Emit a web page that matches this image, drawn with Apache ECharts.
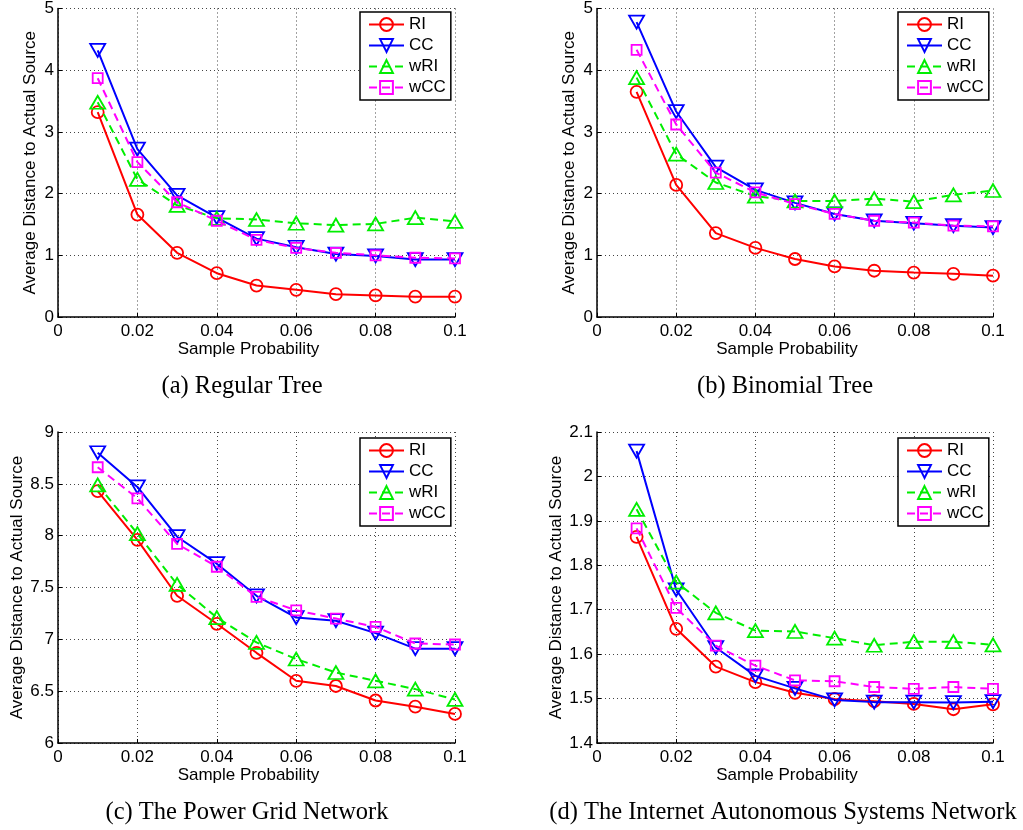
<!DOCTYPE html>
<html>
<head>
<meta charset="utf-8">
<script src="https://cdn.jsdelivr.net/npm/echarts@6/dist/echarts.min.js"></script>
<style>
html,body{margin:0;padding:0;background:#fff;}
#chart{width:1023px;height:830px;}
</style>
</head>
<body>
<div id="chart"></div>
<script>
// ---------- data ----------
const sampleProb = [0.01, 0.02, 0.03, 0.04, 0.05, 0.06, 0.07, 0.08, 0.09, 0.10];
const seriesNames = ['RI', 'CC', 'wRI', 'wCC'];
const captions = ['(a) Regular Tree', '(b) Binomial Tree', '(c) The Power Grid Network', '(d) The Internet Autonomous Systems Network'];

// (a) Regular Tree
const regRI  = [3.32, 1.66, 1.04, 0.71, 0.51, 0.44, 0.37, 0.35, 0.33, 0.33];
const regCC  = [4.32, 2.72, 1.97, 1.61, 1.27, 1.13, 1.02, 0.99, 0.93, 0.93];
const regWRI = [3.48, 2.23, 1.81, 1.60, 1.58, 1.52, 1.49, 1.51, 1.61, 1.55];
const regWCC = [3.87, 2.51, 1.86, 1.56, 1.25, 1.12, 1.04, 1.00, 0.96, 0.95];

// (b) Binomial Tree
const binRI  = [3.65, 2.14, 1.36, 1.12, 0.94, 0.82, 0.75, 0.72, 0.70, 0.67];
const binCC  = [4.78, 3.33, 2.43, 2.06, 1.85, 1.67, 1.56, 1.52, 1.48, 1.45];
const binWRI = [3.88, 2.64, 2.18, 1.96, 1.88, 1.88, 1.92, 1.87, 1.98, 2.05];
const binWCC = [4.33, 3.12, 2.34, 2.02, 1.83, 1.67, 1.56, 1.53, 1.48, 1.47];

// (c) Power Grid Network
const pgRI  = [8.43, 7.96, 7.42, 7.15, 6.87, 6.60, 6.55, 6.41, 6.35, 6.28];
const pgCC  = [8.80, 8.47, 7.99, 7.73, 7.42, 7.21, 7.18, 7.06, 6.91, 6.91];
const pgWRI = [8.49, 8.02, 7.53, 7.21, 6.97, 6.81, 6.68, 6.60, 6.52, 6.42];
const pgWCC = [8.66, 8.36, 7.92, 7.70, 7.41, 7.28, 7.20, 7.12, 6.96, 6.95];

// (d) Internet Autonomous Systems Network
const asRI  = [1.864, 1.657, 1.572, 1.537, 1.513, 1.499, 1.494, 1.488, 1.476, 1.487];
const asCC  = [2.057, 1.745, 1.615, 1.551, 1.523, 1.497, 1.492, 1.492, 1.491, 1.493];
const asWRI = [1.926, 1.762, 1.693, 1.653, 1.651, 1.636, 1.620, 1.628, 1.628, 1.621];
const asWCC = [1.883, 1.704, 1.619, 1.574, 1.541, 1.539, 1.526, 1.522, 1.526, 1.522];

// axis ranges
const xMin = 0, xMax = 0.1, xStep = 0.02;
const yRanges = [
  {min: 0, max: 5, interval: 1},
  {min: 0, max: 5, interval: 1},
  {min: 6, max: 9, interval: 0.5},
  {min: 1.4, max: 2.1, interval: 0.1}
];
const panelData = [
  [regRI, regCC, regWRI, regWCC],
  [binRI, binCC, binWRI, binWCC],
  [pgRI, pgCC, pgWRI, pgWCC],
  [asRI, asCC, asWRI, asWCC]
];

// ---------- layout / style ----------
const grids = [
  {left: 58, top: 6, width: 397, height: 311},
  {left: 597, top: 6, width: 396, height: 311},
  {left: 58, top: 432, width: 397, height: 311},
  {left: 597, top: 432, width: 396, height: 311}
];
const yNameGaps = [19, 19, 32, 32];
const captionPos = [[242, 387], [785, 387], [247, 813], [783, 813]];
const styles = [
  {color: '#ff0000', symbol: 'circle', size: 12, rotate: 0, dash: 'solid'},
  {color: '#0000ff', symbol: 'triangle', size: [15, 13], rotate: 180, dash: 'solid'},
  {color: '#00ee00', symbol: 'triangle', size: [15, 13], rotate: 0, dash: [8, 5]},
  {color: '#ff00ff', symbol: 'rect', size: 10, rotate: 0, dash: [8, 5]}
];
const FONT = '"Liberation Sans", Arial, Helvetica, sans-serif';

const option = {
  backgroundColor: '#fff',
  animation: false,
  grid: grids.map(g => Object.assign({containLabel: false}, g)),
  xAxis: grids.map((g, i) => ({
    type: 'value', gridIndex: i, min: xMin, max: xMax, interval: xStep,
    name: 'Sample Probability', nameLocation: 'middle', nameGap: 22,
    nameTextStyle: {fontFamily: FONT, fontSize: 17, color: '#000', padding: [0, 16, 0, 0]},
    axisLine: {show: true, onZero: false, lineStyle: {color: '#000', width: 1.5}},
    axisTick: {show: true, inside: true, length: 4, lineStyle: {color: '#000'}},
    axisLabel: {fontFamily: FONT, fontSize: 17, color: '#000', margin: 6},
    splitLine: {show: true, lineStyle: {color: '#444', width: 1, type: [1, 3]}}
  })),
  yAxis: grids.map((g, i) => ({
    type: 'value', gridIndex: i, min: yRanges[i].min, max: yRanges[i].max, interval: yRanges[i].interval,
    name: 'Average Distance to Actual Source', nameLocation: 'middle', nameGap: yNameGaps[i],
    nameTextStyle: {fontFamily: FONT, fontSize: 17, color: '#000'},
    axisLine: {show: true, onZero: false, lineStyle: {color: '#000', width: 1.5}},
    axisTick: {show: true, inside: true, length: 4, lineStyle: {color: '#000'}},
    axisLabel: {fontFamily: FONT, fontSize: 17, color: '#000', margin: 4},
    splitLine: {show: true, lineStyle: {color: '#444', width: 1, type: [1, 3]}}
  })),
  legend: grids.map((g, i) => ({
    orient: 'vertical',
    left: g.left + g.width - 95,
    top: g.top + 6,
    data: seriesNames,
    itemWidth: 35, itemHeight: 16, itemGap: 4,
    padding: [4, 5, 4, 8],
    borderColor: '#000', borderWidth: 1.5, backgroundColor: '#fff',
    textStyle: {fontFamily: FONT, fontSize: 17, color: '#000', lineHeight: 16},
    selectedMode: false
  })),
  series: [],
  graphic: captions.map((c, i) => ({
    type: 'text', x: captionPos[i][0], y: captionPos[i][1],
    style: {text: c, font: '24.5px "Liberation Serif", "Times New Roman", serif', fill: '#000',
            textAlign: 'center', textVerticalAlign: 'middle'}
  }))
};

panelData.forEach((sets, p) => {
  sets.forEach((vals, k) => {
    const st = styles[k];
    option.series.push({
      type: 'line', name: seriesNames[k], xAxisIndex: p, yAxisIndex: p,
      data: sampleProb.map((x, j) => [x, vals[j]]),
      symbol: st.symbol, symbolSize: st.size, symbolRotate: st.rotate,
      showAllSymbol: true,
      lineStyle: {color: st.color, width: 2, type: st.dash},
      itemStyle: {color: 'rgba(0,0,0,0)', borderColor: st.color, borderWidth: 1.8},
      emphasis: {disabled: true},
      z: 2 + k
    });
  });
});

const chart = echarts.init(document.getElementById('chart'), null, {renderer: 'canvas'});
chart.setOption(option);
</script>
</body>
</html>
